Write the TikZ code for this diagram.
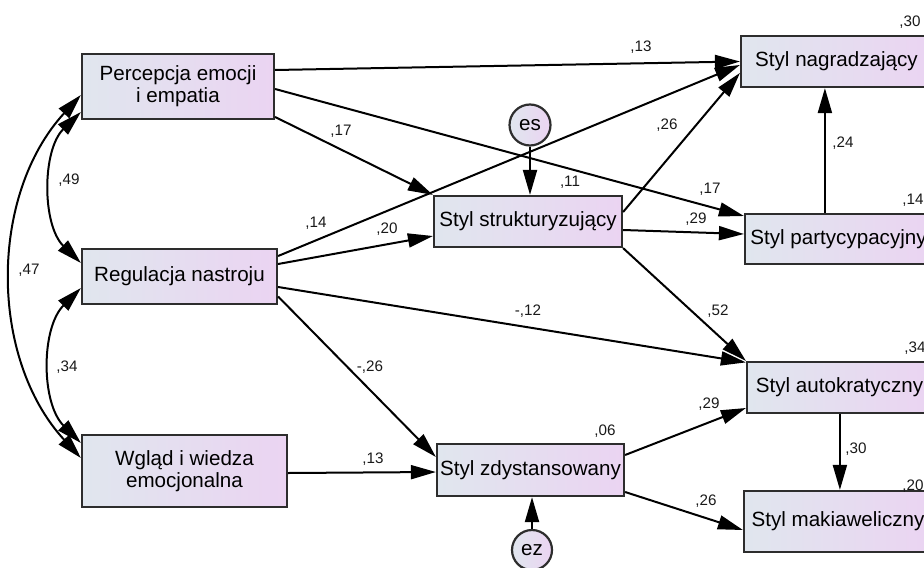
\documentclass[tikz,border=0pt]{standalone}
\usepackage{fontspec}
\setmainfont{Liberation Sans}
\usetikzlibrary{arrows.meta,calc}
\definecolor{boxL}{RGB}{224,230,238}
\definecolor{boxR}{RGB}{235,212,242}
\definecolor{boxline}{RGB}{45,45,45}
\begin{document}
\begin{tikzpicture}[x=0.5pt,y=-0.5pt,
  >={Triangle[length=12.5pt,width=7pt]},
  box/.style={draw=boxline, line width=1.1pt, left color=boxL, right color=boxR,
    inner sep=0pt, align=center, text=black,
    font=\fontsize{10.3}{11}\selectfont},
  err/.style={circle, draw=boxline, line width=1.1pt, left color=boxL, right color=boxR,
    inner sep=0pt, text=black, font=\fontsize{10.3}{11}\selectfont},
  lab/.style={font=\fontsize{7.6}{9}\selectfont, text=black!90, inner sep=0pt},
  path/.style={draw=black, line width=1pt, ->},
  cov/.style={draw=black, line width=1pt, <->}]
\useasboundingbox (0,0) rectangle (924,567);
% nodes
\node[box, minimum width=96pt, minimum height=32.5pt] (perc) at (178,86.5) {Percepcja emocji\\i empatia};
\node[box, minimum width=97.5pt, minimum height=27.5pt] (reg) at (179.5,276.5) {Regulacja nastroju};
\node[box, minimum width=102.5pt, minimum height=36pt] (wg) at (184.5,471) {Wgląd i wiedza\\emocjonalna};
\node[box, minimum width=94pt, minimum height=25.5pt] (strukt) at (528,221.5) {Styl strukturyzujący};
\node[box, minimum width=93.5pt, minimum height=26pt] (zdyst) at (530.5,470) {Styl zdystansowany};
\node[box, minimum width=95.5pt, minimum height=25.5pt] (nagr) at (836.5,61.5) {Styl nagradzający};
\node[box, minimum width=93.5pt, minimum height=25pt] (partyc) at (838.5,239) {Styl partycypacyjny};
\node[box, minimum width=92.5pt, minimum height=25.5pt] (autokr) at (839.5,387.5) {Styl autokratyczny};
\node[box, minimum width=94pt, minimum height=30.5pt] (maki) at (838,521.5) {Styl makiaweliczny};
\node[err, minimum size=20.5pt] (es) at (530,125) {es};
\node[err, minimum size=20pt] (ez) at (532,550) {ez};
% paths
\draw[path] ($(perc.east)+(0,-16.5)$) -- (nagr.west);
\draw[path] ($(perc.east)+(0,2.5)$) -- ($(partyc.west)+(0,-23)$);
\draw[path] ($(perc.east)+(0,30.5)$) -- (strukt.north west);
\draw[path] ($(reg.east)+(0,-20.5)$) -- ($(nagr.west)+(0,3.5)$);
\draw[path] ($(reg.east)+(0,-12.5)$) -- ($(strukt.west)+(0,14.5)$);
\draw[path] ($(reg.east)+(0,10.5)$) -- ($(autokr.north west)+(0,1.5)$);
\draw[path] ($(reg.east)+(0,20)$) -- ($(zdyst.west)+(0,-13)$);
\draw[path] ($(wg.east)+(0,2)$) -- ($(zdyst.west)+(0,2)$);
\draw[path] (es.south) -- (es.south |- strukt.north);
\draw[path] (ez.north) -- (ez.north |- zdyst.south);
\draw[path] ($(strukt.east)+(0,-9.5)$) -- ($(nagr.west)+(0,11.5)$);
\draw[path] ($(strukt.east)+(0,8.5)$) -- ($(partyc.west)+(0,-5)$);
\draw[path] (strukt.south east) -- (autokr.north west);
\coordinate (p1) at ($(partyc.north west)+(81,0)$);
\draw[path] (p1) -- (p1 |- nagr.south);
\draw[path] ($(zdyst.east)+(0,-15)$) -- ($(autokr.west)+(0,20.5)$);
\draw[path] ($(zdyst.east)+(0,22)$) -- ($(maki.west)+(0,8.5)$);
\coordinate (a1) at ($(autokr.south west)+(94,0)$);
\draw[path] (a1) -- (a1 |- maki.north);
% covariances
\draw[cov] ($(perc.west)+(0,25.5)$) .. controls +(-39,38) and +(-39,-38) .. ($(reg.west)+(0,-13.5)$);
\draw[cov] ($(perc.west)+(0,8.5)$) .. controls +(-92,100) and +(-92,-100) .. ($(wg.west)+(0,-13)$);
\draw[cov] ($(reg.west)+(0,11.5)$) .. controls +(-40,40) and +(-40,-40) .. ($(wg.west)+(0,-28)$);
% labels
\node[lab] (l1) at (641,47) {,13};
\node[lab] (l2) at (667,125) {,26};
\node[lab] (l3) at (843,143) {,24};
\node[lab] (l4) at (710,189) {,17};
\node[lab] (l5) at (913,200) {,14};
\node[lab] (l6) at (696,219) {,29};
\node[lab] (l7) at (718,311) {,52};
\node[lab] (l8) at (915,348) {,34};
\node[lab] (l9) at (709,404) {,29};
\node[lab] (l10) at (856,449) {,30};
\node[lab] (l11) at (913,486) {,20};
\node[lab] (l12) at (706,501) {,26};
\node[lab] (l13) at (605,431) {,06};
\node[lab] (l14) at (373,459) {,13};
\node[lab] (l15) at (341,131) {,17};
\node[lab] (l16) at (570,182) {,11};
\node[lab] (l17) at (316,223) {,14};
\node[lab] (l18) at (387,229) {,20};
\node[lab] (l19) at (528,311) {-,12};
\node[lab] (l20) at (370,367) {-,26};
\node[lab] (l21) at (69,180) {,49};
\node[lab] (l22) at (29,270) {,47};
\node[lab] (l23) at (67,367) {,34};
\node[lab] (l24) at (910,22) {,30};
\end{tikzpicture}
\end{document}
